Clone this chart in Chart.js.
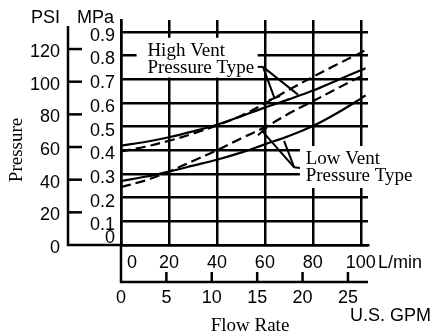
<!DOCTYPE html>
<html>
<head>
<meta charset="utf-8">
<script src="https://cdn.jsdelivr.net/npm/chart.js@4.4.1/dist/chart.umd.min.js"></script>
<style>
  html, body { margin: 0; padding: 0; background: #fff; }
  #wrap { width: 436px; height: 336px; }
</style>
</head>
<body>
<div id="wrap"><canvas id="flowChart"></canvas></div>
<script>
// axis ticks
var lpmTicks = [0, 20, 40, 60, 80, 100];
var gpmTicks = [0, 5, 10, 15, 20, 25];
var psiTicks = [0, 20, 40, 60, 80, 100, 120];
var mpaTicks = [0, 0.1, 0.2, 0.3, 0.4, 0.5, 0.6, 0.7, 0.8, 0.9];

// flow (L/min) and pressure (MPa)
var flowLpm        = [0,     10,    20,    30,    40,    50,    60,    70,    80,    90,    100,   102];
var highVentSolid  = [0.42,  0.435, 0.455, 0.48,  0.508, 0.543, 0.58,  0.615, 0.652, 0.695, 0.738, 0.746];
var highVentDashed = [0.395, 0.415, 0.44,  0.47,  0.505, 0.545, 0.598, 0.655, 0.71,  0.762, 0.812, 0.824];
var lowVentSolid   = [0.27,  0.288, 0.31,  0.335, 0.36,  0.39,  0.425, 0.46,  0.502, 0.556, 0.618, 0.632];
var lowVentDashed  = [0.245, 0.272, 0.31,  0.355, 0.40,  0.45,  0.497, 0.555, 0.607, 0.66,  0.712, 0.722];

var highNote = ['High Vent', 'Pressure Type'];
var lowNote = ['Low Vent', 'Pressure Type'];

var PSI_PER_MPA = 145.038;
var LPM_PER_GPM = 3.78541;
var X_MAX = 103, Y_MAX = 0.95;

var sans = '"Liberation Sans", Arial, sans-serif';
var serif = '"Liberation Serif", "Times New Roman", serif';

// annotation boxes + leader lines, in data units (L/min, MPa)
var notes = [
    { lines: highNote, box: [6.5, 0.875, 57, 0.707], text: [11, 0.798],
      stub: [57, 0.752], from: [59.2, 0.752], to: [[64, 0.62, true], [73.8, 0.635, false]] },
    { lines: lowNote, box: [74.6, 0.418, 124, 0.241], text: [77, 0.342],
      stub: [74.6, 0.325], from: [72.2, 0.328], to: [[59, 0.48, true], [68, 0.44, false]] }
];

function pts(ys) {
    return flowLpm.map(function(x, i) { return { x: x, y: ys[i] }; });
}

function line(ctx, x1, y1, x2, y2) {
    ctx.beginPath();
    ctx.moveTo(x1, y1);
    ctx.lineTo(x2, y2);
    ctx.stroke();
}

var decor = {
    id: 'decor',
    beforeDatasetsDraw: function(chart) {
        var ctx = chart.ctx, sx = chart.scales.x, sy = chart.scales.y;
        ctx.save();
        ctx.fillStyle = '#fff';
        notes.forEach(function(n) {
            var x1 = sx.getPixelForValue(n.box[0]), y1 = sy.getPixelForValue(n.box[1]);
            var x2 = sx.getPixelForValue(n.box[2]), y2 = sy.getPixelForValue(n.box[3]);
            ctx.fillRect(x1, y1, x2 - x1, y2 - y1);
        });
        ctx.restore();
    },
    afterDraw: function(chart) {
        var ctx = chart.ctx, a = chart.chartArea;
        var sx = chart.scales.x, sy = chart.scales.y, sp = chart.scales.psi, sg = chart.scales.gpm;
        ctx.save();
        ctx.strokeStyle = '#000';
        ctx.fillStyle = '#000';
        ctx.lineWidth = 2.5;

        // PSI axis
        var px = a.left - 53;
        line(ctx, px, a.top + 6, px, a.bottom + 1);
        line(ctx, px - 1, a.bottom, a.left, a.bottom);
        ctx.font = '18px ' + sans;
        ctx.textBaseline = 'middle';
        ctx.textAlign = 'right';
        psiTicks.forEach(function(v) {
            var y = sp.getPixelForValue(v);
            if (v > 0) line(ctx, px, y, px + 14, y);
            ctx.fillText(String(v), px - 8, y + 3);
        });
        ctx.fillText('PSI', px - 8, a.top - 2);

        // MPa labels
        mpaTicks.forEach(function(v) {
            var y = sy.getPixelForValue(v);
            ctx.fillText(v === 0 ? '0' : v.toFixed(1), a.left - 6, v === 0 ? y - 7 : y + 4);
        });
        ctx.fillText('MPa', a.left - 7, a.top - 2);

        // L/min labels
        lpmTicks.forEach(function(v) {
            var x = sx.getPixelForValue(v);
            if (v === 0) {
                ctx.textAlign = 'left';
                ctx.fillText('0', x + 6, a.bottom + 18);
            } else {
                ctx.textAlign = 'center';
                ctx.fillText(String(v), x, a.bottom + 18);
            }
        });
        ctx.textAlign = 'left';
        ctx.fillText('L/min', a.right + 10, a.bottom + 18);

        // GPM axis
        var gy = a.bottom + 37;
        line(ctx, a.left, a.bottom, a.left, gy + 1);
        line(ctx, a.left - 1, gy, a.right, gy);
        ctx.textAlign = 'center';
        gpmTicks.forEach(function(v) {
            var x = sg.getPixelForValue(v);
            if (v > 0) line(ctx, x, gy, x, gy - 10);
            ctx.fillText(String(v), x, gy + 16);
        });
        ctx.textAlign = 'left';
        ctx.fillText('U.S. GPM', a.right - 18, gy + 34);

        // titles
        ctx.font = '19px ' + serif;
        ctx.textAlign = 'center';
        ctx.fillText('Flow Rate', 250, gy + 44);
        ctx.save();
        ctx.translate(17, 150);
        ctx.rotate(-Math.PI / 2);
        ctx.fillText('Pressure', 0, 0);
        ctx.restore();

        // notes
        ctx.textAlign = 'left';
        ctx.textBaseline = 'alphabetic';
        ctx.lineWidth = 2;
        notes.forEach(function(n) {
            var tx = sx.getPixelForValue(n.text[0]), ty = sy.getPixelForValue(n.text[1]);
            n.lines.forEach(function(s, i) { ctx.fillText(s, tx, ty + i * 17); });
            var fx = sx.getPixelForValue(n.from[0]), fy = sy.getPixelForValue(n.from[1]);
            line(ctx, sx.getPixelForValue(n.stub[0]), sy.getPixelForValue(n.stub[1]), fx, fy);
            n.to.forEach(function(t) {
                var ex = sx.getPixelForValue(t[0]), ey = sy.getPixelForValue(t[1]);
                line(ctx, fx, fy, ex, ey);
                if (t[2]) {
                    var dx = ex - fx, dy = ey - fy, len = Math.sqrt(dx * dx + dy * dy);
                    var nx = -dy / len * 6, ny = dx / len * 6;
                    line(ctx, ex - nx, ey - ny, ex + nx, ey + ny);
                }
            });
        });
        ctx.restore();
    }
};

var ctx = document.getElementById('flowChart').getContext('2d');
var flowChart = new Chart(ctx, {
    type: 'line',
    data: {
        datasets: [
            { data: pts(highVentSolid), borderColor: '#000', borderWidth: 2.2 },
            { data: pts(highVentDashed), borderColor: '#000', borderWidth: 2.2, borderDash: [10, 5] },
            { data: pts(lowVentSolid), borderColor: '#000', borderWidth: 2.2 },
            { data: pts(lowVentDashed), borderColor: '#000', borderWidth: 2.2, borderDash: [10, 5] }
        ]
    },
    options: {
        responsive: true,
        maintainAspectRatio: false,
        animation: false,
        layout: { padding: { left: 121, right: 68, top: 20, bottom: 91 } },
        elements: {
            point: { radius: 0 },
            line: { tension: 0.35, fill: false }
        },
        plugins: { legend: { display: false }, tooltip: { enabled: false } },
        scales: {
            x: {
                type: 'linear', min: 0, max: X_MAX,
                afterBuildTicks: function(s) { s.ticks = lpmTicks.map(function(v) { return { value: v }; }); },
                ticks: { display: false },
                grid: { color: '#000', lineWidth: 2.5, drawTicks: false },
                border: { color: '#000', width: 2.5 }
            },
            y: {
                type: 'linear', min: 0, max: Y_MAX, position: 'left',
                afterBuildTicks: function(s) { s.ticks = mpaTicks.map(function(v) { return { value: v }; }); },
                ticks: { display: false },
                grid: { color: '#000', lineWidth: 2.5, drawTicks: false },
                border: { color: '#000', width: 2.5 }
            },
            psi: { type: 'linear', axis: 'y', position: 'left', display: false, min: 0, max: Y_MAX * PSI_PER_MPA },
            gpm: { type: 'linear', axis: 'x', position: 'bottom', display: false, min: 0, max: X_MAX / LPM_PER_GPM }
        }
    },
    plugins: [decor]
});
</script>
</body>
</html>
